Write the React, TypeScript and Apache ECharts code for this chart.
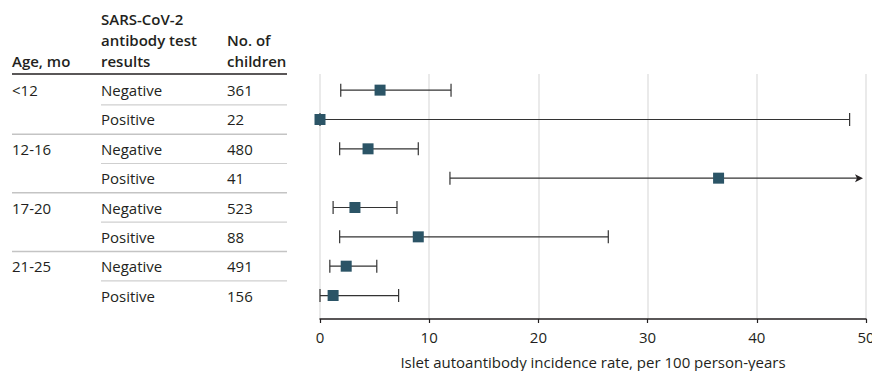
import React, { useEffect, useRef } from "react";
import * as echarts from "echarts";

// ---- data ----
const ageGroups = ["<12", "12-16", "17-20", "21-25"];
const testResults = ["Negative", "Positive", "Negative", "Positive", "Negative", "Positive", "Negative", "Positive"];
const nChildren = [361, 22, 480, 41, 523, 88, 491, 156];
const incidence = [5.5, 0, 4.4, 36.5, 3.2, 9.0, 2.4, 1.2];
const ciLow = [1.9, 0, 1.8, 11.9, 1.2, 1.8, 0.9, 0];
// null = upper bound beyond the axis (drawn as arrow)
const ciHigh: (number | null)[] = [12.0, 48.5, 9.0, null, 7.05, 26.4, 5.2, 7.2];
const xMin = 0;
const xMax = 50;
const xInterval = 10;
const headerAge = ["Age, mo"];
const headerResult = ["SARS-CoV-2", "antibody test", "results"];
const headerN = ["No. of", "children"];
const xAxisTitle = "Islet autoantibody incidence rate, per 100 person-years";

const FONT = '"Open Sans", "Noto Sans", sans-serif';
const TEXT = "#231f20";
const MARK = "#2b5466";
const Y_MIN = -0.55;
const Y_MAX = 7.8;

export default function App() {
  const ref = useRef<HTMLDivElement>(null);
  useEffect(() => {
    document.body.style.margin = "0";
    const chart = echarts.init(ref.current!, undefined, { renderer: "svg" });
    const rows = testResults.map((_, i) => i);

    const headerGraphics: any[] = [];
    const lh = 21;
    const hs = (t: string) => ({ text: t, font: `600 15px ${FONT}`, fill: TEXT, verticalAlign: "middle" });
    headerAge.forEach((t, i) => headerGraphics.push({ type: "text", x: 12, y: 61 - (headerAge.length - 1 - i) * lh, style: hs(t) }));
    headerResult.forEach((t, i) => headerGraphics.push({ type: "text", x: 101, y: 61 - (headerResult.length - 1 - i) * lh, style: hs(t) }));
    headerN.forEach((t, i) => headerGraphics.push({ type: "text", x: 227, y: 61 - (headerN.length - 1 - i) * lh, style: hs(t) }));

    chart.setOption({
      animation: false,
      grid: { left: 320, right: 6, top: 74, bottom: 52, outerBoundsMode: "none", containLabel: false },
      graphic: headerGraphics,
      xAxis: {
        type: "value",
        min: xMin,
        max: xMax,
        interval: xInterval,
        name: xAxisTitle,
        nameLocation: "middle",
        nameGap: 35,
        nameTextStyle: { fontFamily: FONT, fontSize: 15, color: TEXT },
        axisLine: { show: true, onZero: false, lineStyle: { color: "#231f20", width: 1.5 } },
        axisTick: { show: true, length: 4, lineStyle: { color: "#231f20", width: 1.2 } },
        axisLabel: { fontFamily: FONT, fontSize: 15, color: TEXT, margin: 10 },
        splitLine: { show: true, lineStyle: { color: "#e3e3e3", width: 1.5 } },
      },
      yAxis: {
        type: "value",
        inverse: true,
        min: Y_MIN,
        max: Y_MAX,
        show: false,
        splitLine: { show: false },
      },
      series: [
        {
          type: "custom",
          clip: false,
          silent: true,
          data: rows.map((i) => [0, i]),
          renderItem: (params: any, api: any) => {
            const i = params.dataIndex;
            const y = api.coord([0, i])[1];
            const children: any[] = [];
            const st = (text: string) => ({ text, font: `15px ${FONT}`, fill: TEXT, verticalAlign: "middle", align: "left" });
            if (i % 2 === 0) children.push({ type: "text", x: 12, y, style: st(ageGroups[i / 2]) });
            children.push({ type: "text", x: 101, y, style: st(testResults[i]) });
            children.push({ type: "text", x: 227, y, style: st(String(nChildren[i])) });
            const ly = api.coord([0, i + 0.5])[1];
            if (i % 2 === 0) {
              children.push({ type: "line", shape: { x1: 101, y1: ly, x2: 287, y2: ly }, style: { stroke: "#cfcfcf", lineWidth: 1.2 } });
            } else if (i < rows.length - 1) {
              children.push({ type: "line", shape: { x1: 12, y1: ly, x2: 287, y2: ly }, style: { stroke: "#c4c4c4", lineWidth: 1.5 } });
            }
            if (i === 0) {
              const hy = api.coord([0, Y_MIN])[1];
              children.push({ type: "line", shape: { x1: 12, y1: hy, x2: 287, y2: hy }, style: { stroke: "#231f20", lineWidth: 1.5 } });
            }
            return { type: "group", children };
          },
        },
        {
          type: "custom",
          clip: false,
          silent: true,
          data: rows.map((i) => [ciLow[i], ciHigh[i] == null ? xMax : ciHigh[i], i, ciHigh[i] == null ? 1 : 0]),
          renderItem: (params: any, api: any) => {
            const lo = api.coord([api.value(0), api.value(2)]);
            const hi = api.coord([api.value(1), api.value(2)]);
            const arrow = api.value(3) === 1;
            const y = lo[1];
            const ch = 6.5;
            const stroke = { stroke: "#333", lineWidth: 1.2 };
            const children: any[] = [
              { type: "line", shape: { x1: lo[0], y1: y, x2: arrow ? hi[0] - 6 : hi[0], y2: y }, style: stroke },
              { type: "line", shape: { x1: lo[0], y1: y - ch, x2: lo[0], y2: y + ch }, style: stroke },
            ];
            if (arrow) {
              children.push({ type: "polygon", shape: { points: [[hi[0] - 3, y], [hi[0] - 11, y - 4], [hi[0] - 9, y], [hi[0] - 11, y + 4]] }, style: { fill: "#231f20" } });
            } else {
              children.push({ type: "line", shape: { x1: hi[0], y1: y - ch, x2: hi[0], y2: y + ch }, style: stroke });
            }
            return { type: "group", children };
          },
        },
        {
          type: "scatter",
          symbol: "rect",
          symbolSize: 11,
          silent: true,
          itemStyle: { color: MARK, opacity: 1 },
          data: rows.map((i) => [incidence[i], i]),
          z: 5,
        },
      ],
    });
    return () => chart.dispose();
  }, []);
  return <div ref={ref} style={{ width: 872, height: 371 }} />;
}
